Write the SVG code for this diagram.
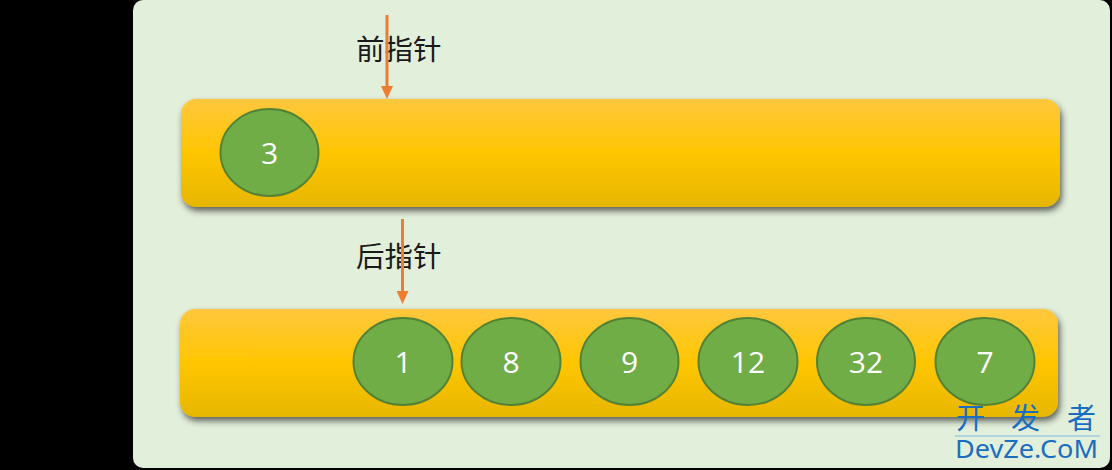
<svg xmlns="http://www.w3.org/2000/svg" width="1112" height="470" viewBox="0 0 1112 470">
<defs>
<linearGradient id="barGrad" x1="0" y1="0" x2="0" y2="1">
<stop offset="0" stop-color="#FFC73E"/>
<stop offset="0.5" stop-color="#FFC600"/>
<stop offset="1" stop-color="#E6B600"/>
</linearGradient>
<filter id="shadow" x="-5%" y="-20%" width="110%" height="150%">
<feDropShadow dx="2" dy="4" stdDeviation="3" flood-color="#333" flood-opacity="0.75"/>
</filter>
<marker id="arrow" markerWidth="13" markerHeight="12" refX="4" refY="6" orient="auto" markerUnits="userSpaceOnUse" viewBox="0 0 13 12">
<path d="M0,0 L13,6 L0,12 Z" fill="#ED7D31"/>
</marker>
</defs>
<style>
.bar{fill:url(#barGrad);filter:url(#shadow);}
.node ellipse{fill:#70AD47;stroke:#548235;stroke-width:2;}
.node text{fill:#fff;font-family:"Open Sans","Noto Sans",sans-serif;font-size:30px;text-anchor:middle;}
.label{fill:#1a1a1a;font-family:"Noto Sans CJK SC",sans-serif;font-size:28.5px;}
.conn{stroke:#ED7D31;stroke-width:3;fill:none;}
.wm{fill:#1A6EC0;}
.wmc{fill:#1A6EC0;font-family:"Noto Sans CJK SC",sans-serif;font-size:29px;}
</style>
<rect x="0" y="0" width="1112" height="470" fill="#000"/>
<rect x="133" y="0" width="977" height="468" rx="10" fill="#E2EFDA"/>
<g id="bar-front"><rect class="bar" x="181" y="99" width="879" height="108" rx="15"/></g>
<g id="bar-back"><rect class="bar" x="180" y="309" width="878" height="108" rx="15"/></g>
<g id="label-front"><text class="label" x="356" y="60">前指针</text></g>
<g id="label-back"><text class="label" x="356" y="267">后指针</text></g>
<g id="node-3" class="node"><ellipse cx="269.5" cy="152.5" rx="49" ry="43.5"/><text x="269.5" y="163.5">3</text></g>
<g id="node-1" class="node"><ellipse cx="403" cy="361.5" rx="49.5" ry="43.5"/><text x="403" y="373">1</text></g>
<g id="node-8" class="node"><ellipse cx="511" cy="361.5" rx="49.5" ry="43.5"/><text x="511" y="373">8</text></g>
<g id="node-9" class="node"><ellipse cx="629.5" cy="361.5" rx="49" ry="43.5"/><text x="629.5" y="373">9</text></g>
<g id="node-12" class="node"><ellipse cx="748" cy="361.5" rx="49.5" ry="43.5"/><text x="748" y="373">12</text></g>
<g id="node-32" class="node"><ellipse cx="866" cy="361.5" rx="49" ry="43.5"/><text x="866" y="373">32</text></g>
<g id="node-7" class="node"><ellipse cx="985" cy="361.5" rx="49.5" ry="43.5"/><text x="985" y="373">7</text></g>
<g id="connectors">
<line class="conn" x1="387" y1="15" x2="387" y2="90" marker-end="url(#arrow)"/>
<line class="conn" x1="402.5" y1="219" x2="402.5" y2="295" marker-end="url(#arrow)"/>
</g>
<g id="watermark">
<text class="wmc" x="956" y="429">开</text>
<text class="wmc" x="1011" y="429">发</text>
<text class="wmc" x="1067" y="429">者</text>
<line x1="955" y1="436" x2="1100" y2="436" stroke="#7FB9E6" stroke-width="1"/>
<text class="wm" x="955" y="458" font-family="Noto Sans,sans-serif" font-size="25" textLength="143" lengthAdjust="spacingAndGlyphs">DevZe.CoM</text>
</g>
</svg>
